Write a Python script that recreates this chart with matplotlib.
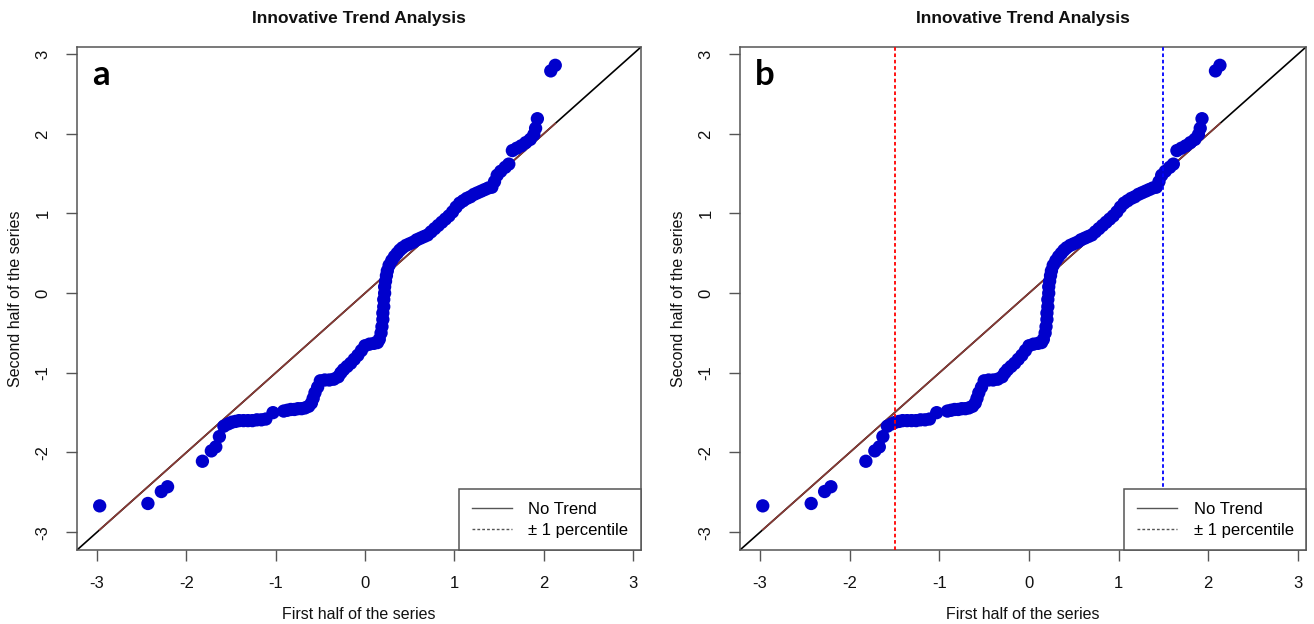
import matplotlib
matplotlib.use("Agg")
import matplotlib.pyplot as plt
from matplotlib.lines import Line2D

plt.rcParams['font.family'] = ['Liberation Sans', 'DejaVu Sans']

# Sorted first half (x) vs sorted second half (y) of the series
first_half = [-2.97, -2.43, -2.28, -2.21, -1.82, -1.72, -1.67, -1.63, -1.58, -1.53,
              -1.49, -1.45, -1.41, -1.36, -1.31, -1.26, -1.21, -1.16, -1.11, -1.03,
              -0.91, -0.87, -0.83, -0.79, -0.75, -0.71, -0.67, -0.63, -0.60, -0.58,
              -0.56, -0.53, -0.50, -0.45, -0.40, -0.35, -0.30, -0.27, -0.24, -0.20,
              -0.16, -0.12, -0.08, -0.04, 0.00, 0.05, 0.10, 0.14, 0.16, 0.18,
              0.19, 0.20, 0.20, 0.21, 0.21, 0.22, 0.22, 0.23, 0.24, 0.25,
              0.27, 0.30, 0.33, 0.36, 0.39, 0.42, 0.46, 0.50, 0.54, 0.58,
              0.62, 0.66, 0.70, 0.74, 0.78, 0.82, 0.86, 0.90, 0.94, 0.98,
              1.02, 1.06, 1.10, 1.14, 1.18, 1.22, 1.26, 1.30, 1.34, 1.38,
              1.42, 1.45, 1.48, 1.52, 1.57, 1.61, 1.65, 1.70, 1.75, 1.80,
              1.85, 1.89, 1.91, 1.93, 2.08, 2.13]
second_half = [-2.67, -2.64, -2.49, -2.43, -2.11, -1.98, -1.93, -1.80, -1.67, -1.64,
               -1.62, -1.61, -1.60, -1.60, -1.60, -1.60, -1.59, -1.59, -1.58, -1.50,
               -1.48, -1.47, -1.46, -1.46, -1.45, -1.45, -1.44, -1.42, -1.38, -1.32,
               -1.25, -1.18, -1.10, -1.09, -1.09, -1.08, -1.05, -1.00, -0.96, -0.92,
               -0.88, -0.83, -0.78, -0.72, -0.66, -0.64, -0.63, -0.62, -0.58, -0.50,
               -0.42, -0.33, -0.25, -0.17, -0.08, 0.00, 0.08, 0.15, 0.22, 0.28,
               0.35, 0.41, 0.46, 0.50, 0.54, 0.57, 0.60, 0.62, 0.64, 0.67,
               0.69, 0.71, 0.73, 0.77, 0.81, 0.85, 0.89, 0.93, 0.97, 1.02,
               1.08, 1.13, 1.16, 1.19, 1.21, 1.24, 1.26, 1.28, 1.30, 1.32,
               1.33, 1.40, 1.48, 1.53, 1.58, 1.62, 1.79, 1.82, 1.85, 1.89,
               1.93, 1.99, 2.07, 2.19, 2.79, 2.86]

ticks = [-3, -2, -1, 0, 1, 2, 3]
panel_labels = ['a', 'b']
percentile_lines = [-1.5, 1.5]
percentile_colors = ['#ff0000', '#0000ff']
title = 'Innovative Trend Analysis'
xlabel = 'First half of the series'
ylabel = 'Second half of the series'
legend_labels = ['No Trend', '\u00b1 1 percentile']

lim = (-3.224, 3.09)
gray = '#555555'

fig = plt.figure(figsize=(13.14, 6.24), dpi=100)
axes = [fig.add_axes([77/1314, 74/624, 564/1314, 503/624]),
        fig.add_axes([740/1314, 74/624, 566/1314, 503/624])]

for i, ax in enumerate(axes):
    ax.set_xlim(*lim)
    ax.set_ylim(*lim)
    ax.plot(lim, lim, color='black', lw=1.2, zorder=2)
    ax.plot([min(first_half), max(first_half)], [min(first_half), max(first_half)],
            color='#8a3b36', lw=1.2, zorder=3)
    ax.scatter(first_half, second_half, s=92, color='#0000cc', edgecolors='none', zorder=4)
    if i == 1:
        for xv, c in zip(percentile_lines, percentile_colors):
            ax.axvline(xv, color=c, lw=1.3, ls=(0, (2, 1.5)), zorder=5)
    ax.set_xticks(ticks)
    ax.set_yticks(ticks)
    ax.set_xticklabels([str(t) for t in ticks])
    ax.set_yticklabels([str(t) for t in ticks], rotation=90, va='center')
    ax.tick_params(direction='out', length=8, width=1, color=gray, labelsize=12,
                   labelcolor='#111111', pad=11)
    for sp in ax.spines.values():
        sp.set_color(gray)
        sp.set_linewidth(1.1)
    ax.set_title(title, fontsize=12.5, fontweight='bold', pad=17, color='#111111')
    ax.set_xlabel(xlabel, fontsize=11.5, labelpad=11, color='#111111')
    ax.set_ylabel(ylabel, fontsize=11.5, labelpad=9, color='#111111')
    ax.text(0.027, 0.9245, panel_labels[i], transform=ax.transAxes, fontsize=25,
            fontweight='bold', family=['Lato', 'DejaVu Sans'], ha='left', va='baseline', color='black')
    handles = [Line2D([0], [0], color=gray, lw=1.0),
               Line2D([0], [0], color=gray, lw=1.0, ls=(0, (2, 1.5)))]
    leg = ax.legend(handles, legend_labels, loc='lower right', borderaxespad=0,
                    fontsize=12, fancybox=False, framealpha=1, edgecolor=gray,
                    handlelength=2.4, handletextpad=1.0, borderpad=0.75, labelspacing=0.35)
    leg.get_frame().set_linewidth(1.1)
    leg.set_zorder(6)

fig.savefig('out.png', dpi=100)
